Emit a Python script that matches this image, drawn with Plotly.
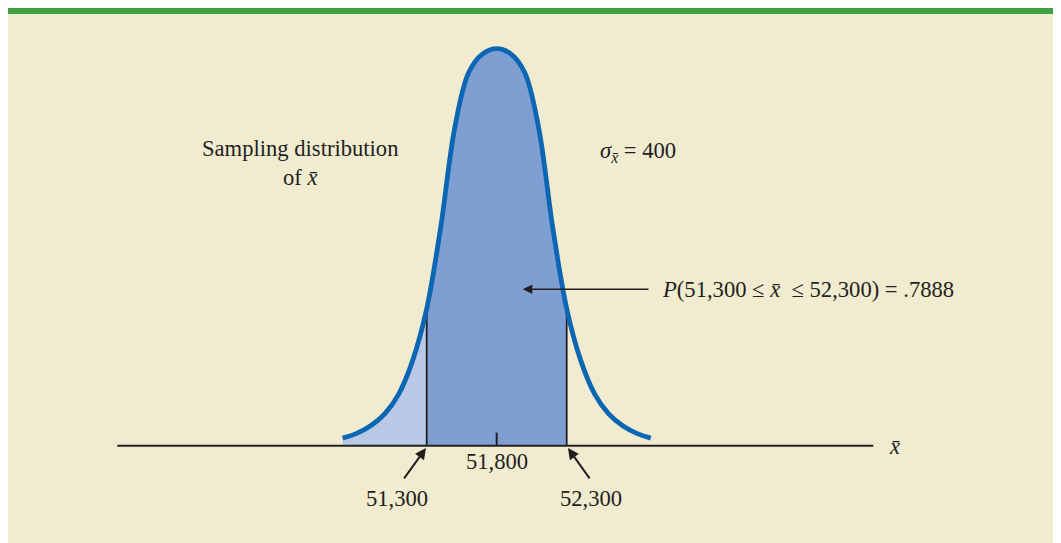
import plotly.graph_objects as go

# ---------------- data ----------------
mean_value = 51800
lower_value = 51300
upper_value = 52300
sigma_label = 400
probability = ".7888"

# curve: x-bar values and relative density height (peak = 1)
curve_x = [50700, 50800, 50900, 51000, 51100, 51200, 51300, 51400, 51500, 51600, 51700,
           51800,
           51900, 52000, 52100, 52200, 52300, 52400, 52500, 52600, 52700, 52800, 52900]
curve_y = [0.019, 0.031, 0.050, 0.080, 0.130, 0.215, 0.345, 0.550, 0.800, 0.940, 0.987,
           1.000,
           0.987, 0.940, 0.800, 0.550, 0.345, 0.215, 0.130, 0.080, 0.050, 0.031, 0.019]

axis_start = 49090
axis_end = 54490
tick_labels = ["51,300", "51,800", "52,300"]

# ---------------- styling ----------------
BEIGE = "#f1ebd0"
GREEN = "#40a043"
CURVE = "#0b66b4"
DARK_FILL = "#7f9fd3"
LIGHT_FILL = "#b9c8e5"
INK = "#231f20"
FONT = "Liberation Serif"

W, H = 1053, 535
fig = go.Figure()

lo_i = curve_x.index(lower_value)
hi_i = curve_x.index(upper_value)

# left tail (light)
fig.add_trace(go.Scatter(x=curve_x[:lo_i + 1], y=curve_y[:lo_i + 1], mode="lines",
                         line=dict(width=0, shape="spline"), fill="tozeroy",
                         fillcolor=LIGHT_FILL, hoverinfo="skip"))
# central area (dark)
fig.add_trace(go.Scatter(x=curve_x[lo_i:hi_i + 1], y=curve_y[lo_i:hi_i + 1], mode="lines",
                         line=dict(width=0, shape="spline"), fill="tozeroy",
                         fillcolor=DARK_FILL, hoverinfo="skip"))
# vertical boundaries
for v in (lower_value, upper_value):
    fig.add_trace(go.Scatter(x=[v, v], y=[0, curve_y[curve_x.index(v)]], mode="lines",
                             line=dict(color=INK, width=1.8), hoverinfo="skip"))
# mean tick
fig.add_trace(go.Scatter(x=[mean_value, mean_value], y=[0, 0.033], mode="lines",
                         line=dict(color=INK, width=2), hoverinfo="skip"))
# horizontal axis line
fig.add_trace(go.Scatter(x=[axis_start, axis_end], y=[0, 0], mode="lines",
                         line=dict(color=INK, width=2), hoverinfo="skip"))
# the curve
fig.add_trace(go.Scatter(x=curve_x, y=curve_y, mode="lines",
                         line=dict(color=CURVE, width=4.8, shape="spline"),
                         hoverinfo="skip"))

# ---------------- mapping helpers ----------------
px_per_unit = 0.14
mean_fx = 488.7
x0 = mean_value - mean_fx / px_per_unit
x1 = mean_value + (W - mean_fx) / px_per_unit
axis_fy = 437.7
px_per_y = 397.0
y_top = axis_fy / px_per_y
y_bot = -(H - axis_fy) / px_per_y

XBAR = "<i>x̄</i>"
font = dict(family=FONT, size=22.6, color=INK)

ann = []
# tick labels
ann.append(dict(x=mean_value, y=-0.041, text=tick_labels[1], showarrow=False, font=font))
ann.append(dict(x=51086, y=-0.134, text=tick_labels[0], showarrow=False, font=font))
ann.append(dict(x=52474, y=-0.134, text=tick_labels[2], showarrow=False, font=font))
# small arrows to the boundaries
ann.append(dict(x=51295, y=-0.006, ax=51131, ay=-0.086, axref="x", ayref="y",
                text="", showarrow=True, arrowhead=2, arrowsize=1.1, arrowwidth=2,
                arrowcolor=INK))
ann.append(dict(x=52309, y=-0.006, ax=52471, ay=-0.086, axref="x", ayref="y",
                text="", showarrow=True, arrowhead=2, arrowsize=1.1, arrowwidth=2,
                arrowcolor=INK))
# main probability arrow
ann.append(dict(x=51986, y=0.394, ax=52895, ay=0.394, axref="x", ayref="y",
                text="", showarrow=True, arrowhead=2, arrowsize=1.2, arrowwidth=1.6,
                arrowcolor=INK))
ann.append(dict(x=52965, y=0.394, xanchor="left",
                text=f"<i>P</i>({tick_labels[0]} ≤ {XBAR}  ≤ {tick_labels[2]}) = {probability}",
                showarrow=False, font=font))
# side labels
ann.append(dict(x=50395, y=0.712, text=f"Sampling distribution<br>of {XBAR}",
                showarrow=False, font=font, align="center"))
ann.append(dict(x=52810, y=0.740, xanchor="center",
                text=f"<i>σ</i><sub>{XBAR}</sub> = {sigma_label}",
                showarrow=False, font=font))
ann.append(dict(x=54639, y=-0.003, text=XBAR, showarrow=False, font=font))

fig.update_layout(
    width=W, height=H,
    margin=dict(l=0, r=0, t=0, b=0),
    paper_bgcolor=BEIGE, plot_bgcolor="rgba(0,0,0,0)",
    showlegend=False,
    xaxis=dict(range=[x0, x1], visible=False, fixedrange=True),
    yaxis=dict(range=[y_bot, y_top], visible=False, fixedrange=True),
    annotations=ann,
    shapes=[dict(type="rect", xref="paper", yref="paper", x0=0, x1=1,
                 y0=1 - 6 / H, y1=1, fillcolor=GREEN, line=dict(width=0))],
)

fig.write_html("out.html", config={"displayModeBar": False})
